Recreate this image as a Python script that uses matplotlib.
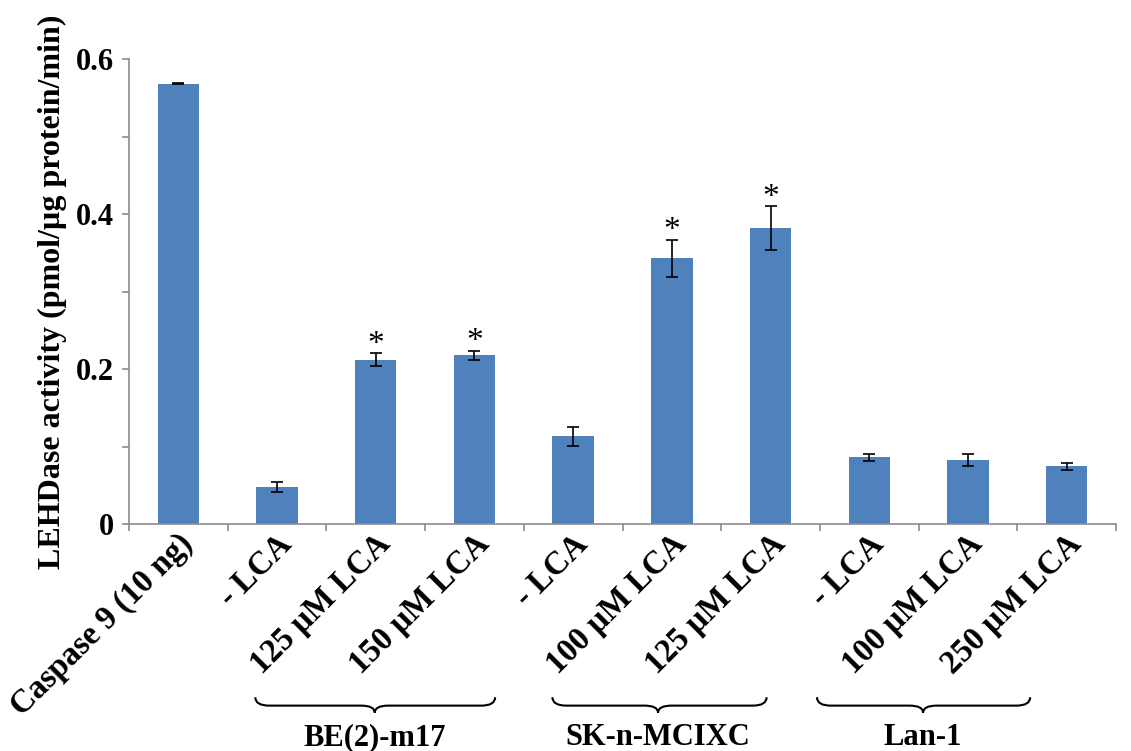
import matplotlib
matplotlib.use("Agg")
import matplotlib.pyplot as plt
import matplotlib.transforms as mtransforms
from matplotlib.path import Path
from matplotlib.patches import PathPatch
import numpy as np

plt.rcParams['font.family'] = ['Liberation Serif', 'DejaVu Serif']
plt.rcParams['font.weight'] = 'bold'

categories = ["Caspase 9 (10 ng)", "- LCA", "125 \u00b5M LCA", "150 \u00b5M LCA",
              "- LCA", "100 \u00b5M LCA", "125 \u00b5M LCA",
              "- LCA", "100 \u00b5M LCA", "250 \u00b5M LCA"]
values = [0.568, 0.048, 0.212, 0.218, 0.1135, 0.343, 0.382, 0.0865, 0.0826, 0.0748]
errors = [0.0005, 0.007, 0.0084, 0.006, 0.012, 0.0237, 0.028, 0.0045, 0.0077, 0.0047]
significant = [False, False, True, True, False, True, True, False, False, False]

groups = ["BE(2)-m17", "SK-n-MCIXC", "Lan-1"]
# brace extents (left, tip, right) in category units
group_spans = [(0.78, 1.99, 3.21), (3.79, 4.86, 5.96), (6.47, 7.545, 8.63)]

BAR_COLOR = "#4F81BD"
AXIS_GREY = "#8C8C8C"

fig = plt.figure(figsize=(11.31, 7.51), dpi=100)
ax = fig.add_axes([0.114, 0.302, 0.8728, 0.6194])

x = np.arange(len(categories))
ax.bar(x, values, width=0.42, color=BAR_COLOR, zorder=2)
ax.errorbar(x, values, yerr=errors, fmt='none', ecolor='black',
            elinewidth=1.2, capsize=4, capthick=1.2, zorder=3)

for xi, v, e, s in zip(x, values, errors, significant):
    if s:
        ax.text(xi, v + e - 0.008, "*", ha='center', va='bottom',
                fontsize=24, fontweight='normal')

ax.set_xlim(-0.5, len(categories) - 0.5)
ax.set_ylim(0, 0.6)

ax.spines['top'].set_visible(False)
ax.spines['right'].set_visible(False)
for sp in ('left', 'bottom'):
    ax.spines[sp].set_color(AXIS_GREY)
    ax.spines[sp].set_linewidth(1.2)

ax.set_yticks([0, 0.2, 0.4, 0.6])
ax.set_yticklabels(["0", "0.2", "0.4", "0.6"])
ax.set_yticks([0.1, 0.3, 0.5], minor=True)
ax.tick_params(axis='y', which='both', direction='out', length=5,
               color=AXIS_GREY, width=1.2, labelsize=22, pad=6)

# category boundaries carry the tick marks; labels sit under bar centres
ax.set_xticks(np.arange(-0.5, len(categories), 1.0))
ax.set_xticklabels([])
ax.tick_params(axis='x', which='major', direction='out', length=5,
               color=AXIS_GREY, width=1.2)
ax.set_xticks(x, minor=True)
ax.set_xticklabels(categories, minor=True, rotation=45, ha='right',
                   rotation_mode='anchor', fontsize=23.5)
ax.tick_params(axis='x', which='minor', length=0, pad=3)
offset = mtransforms.ScaledTranslation(-1 / 100, 0, fig.dpi_scale_trans)
for lbl in ax.get_xticklabels(minor=True):
    lbl.set_transform(lbl.get_transform() + offset)

ax.set_ylabel("LEHDase activity (pmol/\u00b5g protein/min)", fontsize=23,
              fontweight='bold', labelpad=6)

# curly braces grouping the cell lines
trans = mtransforms.blended_transform_factory(ax.transData, ax.transAxes)
y_end, y_line, y_tip = -0.372, -0.390, -0.405
r = 0.14
for (x0, xm, x1), name in zip(group_spans, groups):
    verts = [(x0, y_end), (x0, y_line), (x0 + r, y_line),
             (xm - r, y_line),
             (xm, y_line), (xm, y_tip),
             (xm, y_line), (xm + r, y_line),
             (x1 - r, y_line),
             (x1, y_line), (x1, y_end)]
    codes = [Path.MOVETO, Path.CURVE3, Path.CURVE3,
             Path.LINETO,
             Path.CURVE3, Path.CURVE3,
             Path.CURVE3, Path.CURVE3,
             Path.LINETO,
             Path.CURVE3, Path.CURVE3]
    ax.add_patch(PathPatch(Path(verts, codes), transform=trans, fill=False,
                           edgecolor='black', linewidth=1.5, clip_on=False))
    ax.text(xm, -0.458, name, transform=trans, ha='center', va='center',
            fontsize=22, fontweight='bold')

fig.savefig("out.png", dpi=100)
